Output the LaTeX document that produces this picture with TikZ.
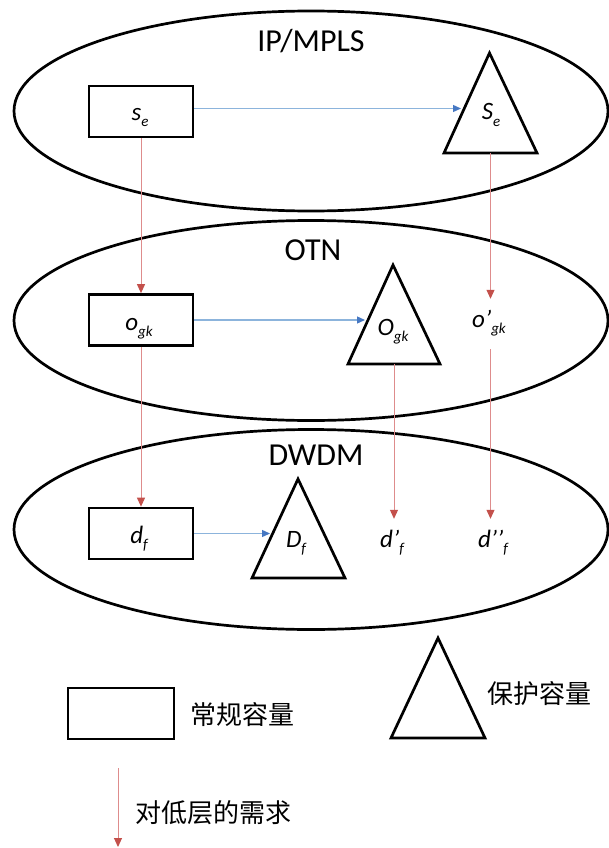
\documentclass[tikz,border=0pt]{standalone}
\usepackage{fontspec}
\setmainfont{Carlito}
\newfontfamily\cjk{Noto Sans CJK SC}
\usetikzlibrary{arrows.meta,shapes.geometric,calc}
\definecolor{bline}{RGB}{140,180,220}
\definecolor{btip}{RGB}{70,120,195}
\definecolor{rline}{RGB}{222,140,140}
\definecolor{rtip}{RGB}{195,80,75}
\newcommand\vlab[2]{\fontsize{25pt}{25pt}\selectfont\itshape #1\raisebox{-6pt}{\fontsize{15pt}{15pt}\selectfont #2}}
\begin{document}
\begin{tikzpicture}[x=1pt,y=-1pt,
  layer/.style={draw, ellipse, line width=2.7pt, minimum width=594pt, minimum height=200pt, inner sep=0pt},
  capbox/.style={draw, rectangle, line width=2.7pt, minimum width=104pt, minimum height=51pt, inner sep=0pt},
  tri/.style={draw, line width=2.7pt, line join=miter},
  laytext/.style={font=\fontsize{32pt}{32pt}\selectfont, anchor=base, inner sep=0pt},
  var/.style={anchor=base, inner xsep=1pt, inner ysep=10pt, text height=18pt, text depth=12pt},
  demand/.style={draw=rline, line width=1pt, -{Triangle[length=9pt,width=8pt,color=rtip,fill=rtip]}},
  flow/.style={draw=bline, line width=1.3pt, -{Triangle[length=8pt,width=7pt,color=btip,fill=btip]}},
  legtext/.style={font=\cjk\fontsize{26pt}{26pt}\selectfont, anchor=west, inner sep=0pt}]
\useasboundingbox (0,0) rectangle (609,848);

% layers
\node[layer] (L1) at (311,111) {};
\node[layer] (L2) at (311,320.5) {};
\node[layer] (L3) at (311,529.5) {};
\node[laytext] (t1) at (311,52) {IP/MPLS};
\node[laytext] (t2) at (313,260) {OTN};
\node[laytext] (t3) at (316,465) {DWDM};

% regular capacity boxes
\node[capbox] (se) at (141,111.5) {};
\node[capbox] (ogk) at (141,320) {};
\node[capbox] (df) at (141,533.5) {};

% protection triangles
\coordinate (SeA) at (489.5,53);  \coordinate (SeL) at (444,153); \coordinate (SeR) at (537,153);
\coordinate (OgA) at (393,265); \coordinate (OgL) at (348,364); \coordinate (OgR) at (440,364);
\coordinate (DfA) at (298,479); \coordinate (DfL) at (252,578); \coordinate (DfR) at (345,578);
\draw[tri] (SeA) -- (SeL) -- (SeR) -- cycle;
\draw[tri] (OgA) -- (OgL) -- (OgR) -- cycle;
\draw[tri] (DfA) -- (DfL) -- (DfR) -- cycle;
\coordinate (SeB) at (490.5,153);
\coordinate (OgB) at (394,364);
\coordinate (SeIn) at (461,108.5);
\coordinate (OgIn) at (365,320);
\coordinate (DfIn) at (270,533.5);

% labels
\node[var] (lse) at (140,121) {\vlab{s}{e}};
\node[var] (lSe) at (491,120) {\vlab{S}{e}};
\node[var] (logk) at (139,330) {\vlab{o}{gk}};
\node[var] (lOgk) at (393,335) {\vlab{O}{gk}};
\node[var] (opgk) at (489,327) {\vlab{o’}{gk}};
\node[var] (ldf) at (139,543) {\vlab{d}{f}};
\node[var] (lDf) at (296,547) {\vlab{D}{f}};
\node[var] (dpf) at (392,547) {\vlab{d’}{f}};
\node[var] (dppf) at (493,547) {\vlab{d’’}{f}};

% horizontal flows
\draw[flow] (se.east |- SeIn) -- (SeIn);
\draw[flow] (ogk.east) -- (ogk.east -| OgIn);
\draw[flow] (df.east) -- (df.east -| DfIn);

% demands on lower layer
\draw[demand] (se.south) -- (ogk.north);
\draw[demand] (ogk.south) -- (df.north);
\draw[demand] (SeB) -- (SeB |- opgk.north);
\draw[demand] (SeB |- opgk.south) -- (SeB |- dppf.north);
\draw[demand] (OgB) -- (OgB |- dpf.north);

% legend
\node[capbox, minimum width=106pt] (leg1) at (121,713.5) {};
\node[legtext] (leg1t) at (190,715) {常规容量};
\coordinate (LgA) at (438,638); \coordinate (LgL) at (391,738); \coordinate (LgR) at (485,738);
\draw[tri] (LgA) -- (LgL) -- (LgR) -- cycle;
\node[legtext] (leg2t) at (487,694) {保护容量};
\coordinate (dtop) at (118,768);
\coordinate (dbot) at (118,847);
\draw[demand] (dtop) -- (dbot);
\node[legtext] (leg3t) at (135,813) {对低层的需求};
\end{tikzpicture}
\end{document}
